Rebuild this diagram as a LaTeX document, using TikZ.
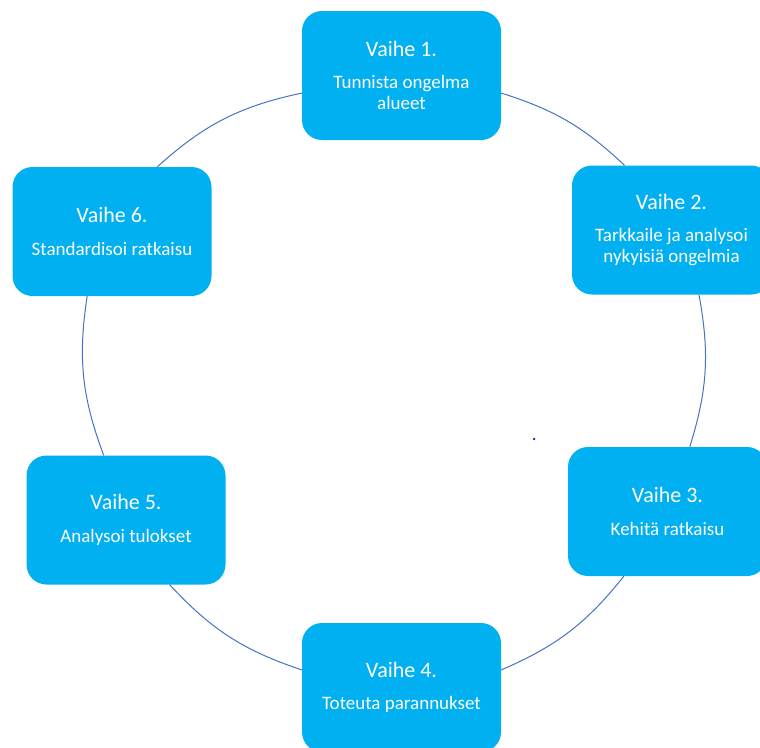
\documentclass[tikz,border=0pt]{standalone}
\usepackage{fontspec}
\setmainfont{Carlito}
\usepackage{xcolor}
\definecolor{vaihesininen}{HTML}{00B0F0}
\definecolor{kaarisininen}{HTML}{4472C4}
\usepackage{tikz}
\newcommand{\otsikko}{\fontsize{22}{26}\selectfont}

\begin{document}
\begin{tikzpicture}[x=1pt, y=-1pt,
      vaihe/.style={fill=vaihesininen, text=white, align=center, rounded corners=20pt, minimum width=199pt, minimum height=129pt, inner sep=0pt, font=\fontsize{19}{20.5}\selectfont},
      kaari/.style={draw=kaarisininen, line width=1pt}
    ]
    \useasboundingbox (0,0) rectangle (760,747);
    \node[vaihe] (v1) at (401.5,75.5) {{\otsikko Vaihe 1.}\\[11.8pt]Tunnista ongelma\\alueet};
    \node[vaihe] (v2) at (671.5,230) {{\otsikko Vaihe 2.}\\[11.8pt]Tarkkaile ja analysoi\\nykyisiä ongelmia};
    \node[vaihe] (v3) at (667.5,511.5) {{\otsikko Vaihe 3.}\\[11.8pt]Kehitä ratkaisu};
    \node[vaihe] (v4) at (401.5,687.5) {{\otsikko Vaihe 4.}\\[11.8pt]Toteuta parannukset};
    \node[vaihe] (v5) at (126,520) {{\otsikko Vaihe 5.}\\[11.8pt]Analysoi tulokset};
    \node[vaihe] (v6) at (112,231.5) {{\otsikko Vaihe 6.}\\[11.8pt]Standardisoi ratkaisu};
    \node[circle, fill=blue!85!black, inner sep=0pt, minimum size=2.5pt] (pilkku) at (534,439) {};
    \draw[kaari] (v1.350) to[bend left=12.9] (v2.126); \draw[kaari] (v2.293) to[bend left=13.9] (v3.71);
    \draw[kaari] (v3.236) to[bend left=14.1] (v4.10); \draw[kaari] (v4.170) to[bend left=14.3] (v5.304);
    \draw[kaari] (v5.109) to[bend left=14.6] (v6.249); \draw[kaari] (v6.55) to[bend left=15] (v1.190);
  \end{tikzpicture}
\end{document}
